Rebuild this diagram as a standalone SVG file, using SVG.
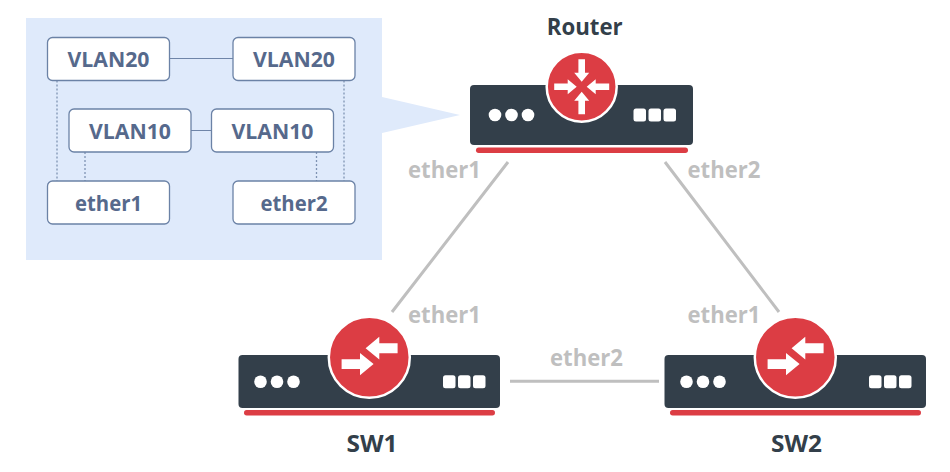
<svg xmlns="http://www.w3.org/2000/svg" width="950" height="472" viewBox="0 0 950 472">
<style>
text{font-family:"Open Sans","Noto Sans","Liberation Sans",sans-serif;font-weight:700;text-anchor:middle}
.name{font-size:24px;fill:#333f4a}
.port{font-size:23px;fill:#bfbfbf}
.box rect{fill:#fff;stroke:#6b82a6;stroke-width:1.3}
.box text{font-size:21.5px;fill:#56698c}
.link{stroke:#bfbfbf;stroke-width:3;fill:none}
.solid{stroke:#6f85a8;stroke-width:1.1;fill:none}
.dot{stroke:#7f93b3;stroke-width:1.3;stroke-dasharray:2 2;fill:none}
.body{fill:#333f4a}
.bar{fill:#dc3d44}
.disc{fill:#dc3d44;stroke:#fff;stroke-width:2.5}
.w{fill:#fff}
</style>
<defs>
<path id="in" class="w" d="M0-5L-7.5-14H-3.3V-27.5H3.3V-14H7.5Z"/>
<g id="led">
<circle cx="0" cy="0" r="6.3" class="w"/><circle cx="16.5" cy="0" r="6.3" class="w"/><circle cx="33" cy="0" r="6.3" class="w"/>
</g>
<g id="sq">
<rect x="0" y="-6.5" width="12.5" height="13" rx="2.5" class="w"/><rect x="15" y="-6.5" width="12.5" height="13" rx="2.5" class="w"/><rect x="30" y="-6.5" width="12.5" height="13" rx="2.5" class="w"/>
</g>
<g id="swa">
<path class="w" d="M-3.7-9L10-20.5V-14H28.3V-4H10V2.2Z"/>
<path class="w" d="M4.3 6.7L-9.3-4.3V2H-27.7V11.7H-9.3V18Z"/>
</g>
</defs>
<g id="panel">
<rect x="26" y="18" width="356" height="242" fill="#dfeafb"/>
<path d="M381 96.7L460 115L381 133.3Z" fill="#dfeafb"/>
</g>
<g id="connectors">
<path class="solid" d="M169.500 58.500H233M191 130.500H211"/>
<path class="dot" d="M57 80.500V181M344 80.500V181"/>
<path class="dot" d="M85 152V181M316.500 152V181"/>
<path class="link" d="M508 162L392 312M665 162L779 312M510 381.300H659"/>
</g>
<g id="vlan20-left" class="box"><rect x="47.500" y="37.500" width="122" height="43" rx="5"/><text x="108.500" y="66.500" textLength="82" lengthAdjust="spacingAndGlyphs">VLAN20</text></g>
<g id="vlan20-right" class="box"><rect x="233" y="37.500" width="122" height="43" rx="5"/><text x="294" y="66.500" textLength="82" lengthAdjust="spacingAndGlyphs">VLAN20</text></g>
<g id="vlan10-left" class="box"><rect x="69" y="109" width="122" height="43" rx="5"/><text x="130" y="138.500" textLength="82" lengthAdjust="spacingAndGlyphs">VLAN10</text></g>
<g id="vlan10-right" class="box"><rect x="211.500" y="109" width="122" height="43" rx="5"/><text x="272.500" y="138.500" textLength="82" lengthAdjust="spacingAndGlyphs">VLAN10</text></g>
<g id="ether1-box" class="box"><rect x="47.500" y="181" width="122" height="43" rx="5"/><text x="108.500" y="210.500" textLength="67" lengthAdjust="spacingAndGlyphs">ether1</text></g>
<g id="ether2-box" class="box"><rect x="233" y="181" width="122" height="43" rx="5"/><text x="294" y="210.500" textLength="67" lengthAdjust="spacingAndGlyphs">ether2</text></g>
<g id="router">
<rect class="body" x="470" y="85" width="223" height="60" rx="4"/>
<rect class="bar" x="476" y="147.500" width="212" height="5.500" rx="2.700"/>
<use href="#led" x="495" y="115"/><use href="#sq" x="633.500" y="115"/>
<circle class="disc" cx="581.700" cy="86.700" r="35"/>
<g transform="translate(581.700 86.700)"><use href="#in"/><use href="#in" transform="rotate(90)"/><use href="#in" transform="rotate(180)"/><use href="#in" transform="rotate(270)"/></g>
<text class="name" x="584.700" y="35.300" textLength="76" lengthAdjust="spacingAndGlyphs">Router</text>
</g>
<g id="sw1">
<rect class="body" x="238.500" y="355" width="261.500" height="53" rx="4"/>
<rect class="bar" x="244" y="410" width="251" height="5.500" rx="2.700"/>
<use href="#led" x="260.500" y="381.700"/><use href="#sq" x="443" y="381.700"/>
<circle class="disc" cx="369.300" cy="357.300" r="40.500"/>
<use href="#swa" x="369.300" y="357.300"/>
<text class="name" x="372" y="451.700" textLength="51" lengthAdjust="spacingAndGlyphs">SW1</text>
</g>
<g id="sw2">
<rect class="body" x="664.500" y="355" width="261.500" height="53" rx="4"/>
<rect class="bar" x="670" y="410" width="251" height="5.500" rx="2.700"/>
<use href="#led" x="686.500" y="381.700"/><use href="#sq" x="869" y="381.700"/>
<circle class="disc" cx="795.300" cy="357.300" r="40.500"/>
<use href="#swa" x="795.300" y="357.300"/>
<text class="name" x="796.500" y="451.700" textLength="51" lengthAdjust="spacingAndGlyphs">SW2</text>
</g>
<g id="port-labels">
<text class="port" x="444.500" y="178.300" textLength="73" lengthAdjust="spacingAndGlyphs">ether1</text>
<text class="port" x="724" y="178.300" textLength="73" lengthAdjust="spacingAndGlyphs">ether2</text>
<text class="port" x="444.500" y="322.800" textLength="73" lengthAdjust="spacingAndGlyphs">ether1</text>
<text class="port" x="724" y="322.800" textLength="73" lengthAdjust="spacingAndGlyphs">ether1</text>
<text class="port" x="586.500" y="366" textLength="73" lengthAdjust="spacingAndGlyphs">ether2</text>
</g>
</svg>
